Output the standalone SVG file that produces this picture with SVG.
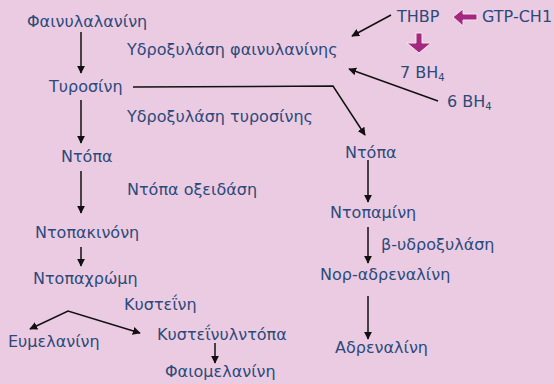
<svg xmlns="http://www.w3.org/2000/svg" width="554" height="384" viewBox="0 0 554 384">
<defs>
<style>
.t{font-family:"DejaVu Sans","Liberation Sans",sans-serif;font-size:16px;fill:#2b4a7a}
.c{fill:none;stroke:#111;stroke-width:1.5}
.m{fill:#a3287f;stroke:#f6e6f0;stroke-width:1}
</style>
<marker id="ah" viewBox="0 0 10 10" refX="9" refY="5" markerWidth="8" markerHeight="8" markerUnits="userSpaceOnUse" orient="auto-start-reverse">
<path d="M0,0 L10,5 L0,10 z" fill="#111"/>
</marker>
</defs>
<rect width="554" height="384" fill="#ebcbe2"/>
<g id="connectors">
<line class="c" x1="81" y1="32" x2="81" y2="73" marker-end="url(#ah)"/>
<line class="c" x1="81" y1="100" x2="81" y2="143" marker-end="url(#ah)"/>
<line class="c" x1="81" y1="171" x2="81" y2="213" marker-end="url(#ah)"/>
<line class="c" x1="81" y1="247" x2="81" y2="266" marker-end="url(#ah)"/>
<polyline class="c" points="133,87 333,86 365,135" marker-end="url(#ah)"/>
<line class="c" x1="391" y1="15" x2="352" y2="36" marker-end="url(#ah)"/>
<line class="c" x1="438" y1="101" x2="349" y2="69" marker-end="url(#ah)"/>
<line class="c" x1="368" y1="160" x2="368" y2="202" marker-end="url(#ah)"/>
<line class="c" x1="368" y1="227" x2="368" y2="263" marker-end="url(#ah)"/>
<line class="c" x1="368" y1="296" x2="368" y2="339" marker-end="url(#ah)"/>
<polyline class="c" points="30,329 68,311 140,333" marker-start="url(#ah)" marker-end="url(#ah)"/>
<line class="c" x1="215" y1="343" x2="215" y2="363" marker-end="url(#ah)"/>
<path class="m" d="M453,17 L463,9 L463,14 L477,14 L477,20 L463,20 L463,26 Z"/>
<path class="m" d="M419,53 L407,43 L416,43 L416,33 L422,33 L422,43 L431,43 Z"/>
</g>
<g id="n-phe"><text class="t" x="27" y="27">Φαινυλαλανίνη</text></g>
<g id="n-pah"><text class="t" x="127" y="55">Υδροξυλάση φαινυλανίνης</text></g>
<g id="n-tyr"><text class="t" x="49" y="92">Τυροσίνη</text></g>
<g id="n-th"><text class="t" x="127" y="122">Υδροξυλάση τυροσίνης</text></g>
<g id="n-dopa1"><text class="t" x="61" y="162">Ντόπα</text></g>
<g id="n-dopaox"><text class="t" x="127" y="195">Ντόπα οξειδάση</text></g>
<g id="n-dopaq"><text class="t" x="35" y="238">Ντοπακινόνη</text></g>
<g id="n-dopachrome"><text class="t" x="33" y="284">Ντοπαχρώμη</text></g>
<g id="n-cys"><text class="t" x="124" y="310">Κυστεΐνη</text></g>
<g id="n-eumel"><text class="t" x="8" y="347">Ευμελανίνη</text></g>
<g id="n-cysdopa"><text class="t" x="157" y="340">Κυστεΐνυλντόπα</text></g>
<g id="n-pheomel"><text class="t" x="165" y="377">Φαιομελανίνη</text></g>
<g id="n-thbp"><text class="t" x="397" y="22">THBP</text></g>
<g id="n-gtp"><text class="t" x="482" y="22">GTP-CH1</text></g>
<g id="n-7bh4"><text class="t" x="400" y="78">7 BH<tspan font-size="10" dy="3">4</tspan></text></g>
<g id="n-6bh4"><text class="t" x="447" y="107">6 BH<tspan font-size="10" dy="3">4</tspan></text></g>
<g id="n-dopa2"><text class="t" x="345" y="158">Ντόπα</text></g>
<g id="n-dopamine"><text class="t" x="330" y="218">Ντοπαμίνη</text></g>
<g id="n-dbh"><text class="t" x="381" y="250">β-υδροξυλάση</text></g>
<g id="n-norad"><text class="t" x="320" y="280">Νορ-αδρεναλίνη</text></g>
<g id="n-adren"><text class="t" x="335" y="353">Αδρεναλίνη</text></g>
</svg>
